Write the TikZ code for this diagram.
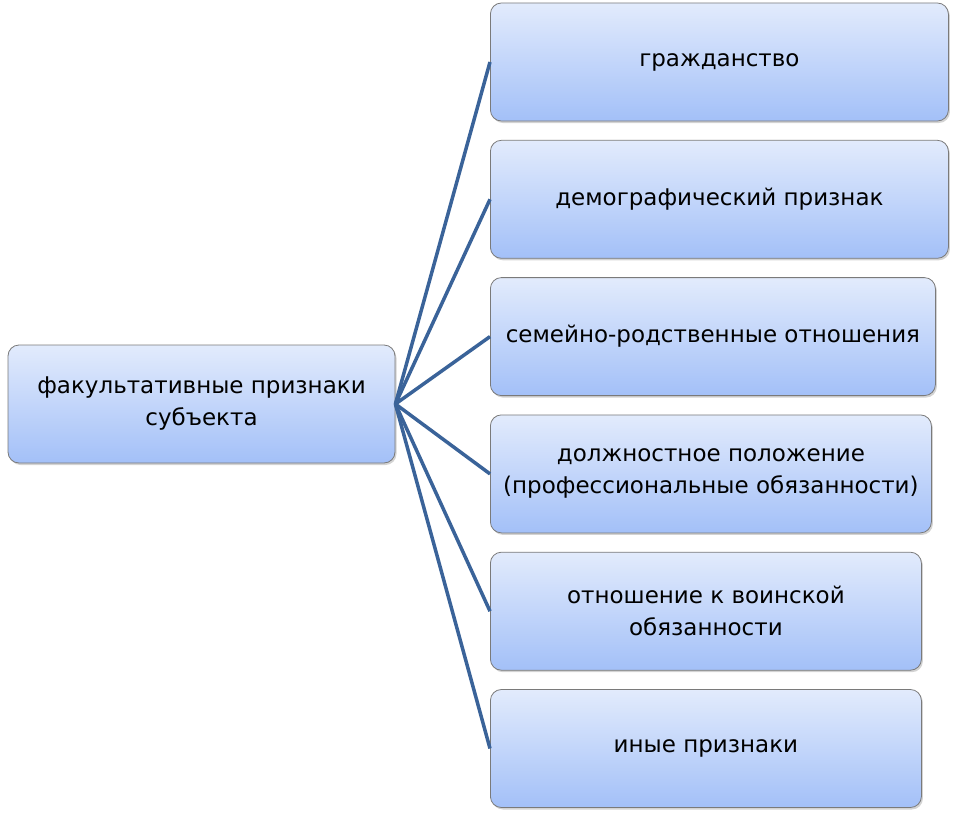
\documentclass[tikz,border=0pt]{standalone}
\usepackage{fontspec}
\setmainfont{DejaVu Sans}
\usetikzlibrary{positioning,shadows}
\definecolor{boxtop}{HTML}{E2EBFC}
\definecolor{boxbot}{HTML}{A3C0F8}
\definecolor{boxline}{HTML}{7A7A7A}
\definecolor{linkcol}{HTML}{3A6399}
\begin{document}
\begin{tikzpicture}[x=1pt,y=-1pt]
\tikzstyle{item}=[rectangle, rounded corners=11pt, draw=boxline, line width=0.8pt, top color=boxtop, bottom color=boxbot, minimum height=118pt, align=center, inner sep=4pt, font=\fontsize{23}{32}\selectfont, drop shadow={opacity=0.35, shadow xshift=1.5pt, shadow yshift=-2pt}]
\tikzstyle{connect}=[linkcol, line width=3.5pt]
\useasboundingbox (0,0) rectangle (956,816);
  \node[item, minimum width=387pt] (root) at (201.5,404) {факультативные признаки\\субъекта};
  \node[item, minimum width=458pt, anchor=west] (p1) at (490,62) {гражданство};
  \node[item, minimum width=458pt, below=18.5pt of p1.south west, anchor=north west] (p2) {демографический признак};
  \node[item, minimum width=445pt, below=18.5pt of p2.south west, anchor=north west] (p3) {семейно-родственные отношения};
  \node[item, minimum width=441pt, below=18.5pt of p3.south west, anchor=north west] (p4) {должностное положение\\(профессиональные обязанности)};
  \node[item, minimum width=431pt, below=18.5pt of p4.south west, anchor=north west] (p5) {отношение к воинской\\обязанности};
  \node[item, minimum width=431pt, below=18.5pt of p5.south west, anchor=north west] (p6) {иные признаки};
\foreach \i in {1,...,6}
  \draw[connect] (root.east) -- (p\i.west);
\end{tikzpicture}
\end{document}
